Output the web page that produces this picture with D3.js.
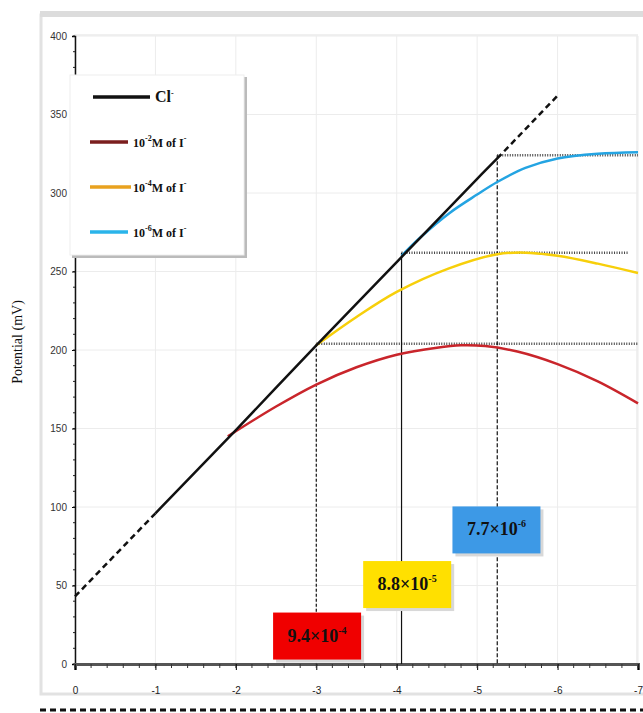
<!DOCTYPE html>
<html>
<head>
<meta charset="utf-8">
<script src="https://cdn.jsdelivr.net/npm/d3@7.9.0/dist/d3.min.js"></script>
<style>
  body { margin: 0; background: #fff; }
  svg { display: block; font-family: "Liberation Serif", "DejaVu Serif", serif; }
</style>
</head>
<body>
<svg id="chart" width="643" height="713"></svg>
<script>
// data
const xTicks = [0, -1, -2, -3, -4, -5, -6, -7];
const yTicks = [0, 50, 100, 150, 200, 250, 300, 350, 400];

const clSolid = [[-1, 96], [-2, 149], [-3, 203], [-4, 256], [-5, 309], [-5.25, 322]];
const clDashLow = [[0, 43], [-1, 96]];
const clDashHigh = [[-5.25, 322], [-6, 362]];

const iodide2 = [[-1.9, 145], [-2.5, 164], [-3, 178], [-3.5, 189], [-4, 197], [-4.5, 201.5],
  [-4.8, 203], [-5.1, 202.5], [-5.5, 199], [-6, 191], [-6.5, 180], [-7, 166]];
const iodide4 = [[-3, 203], [-3.5, 221], [-4, 237], [-4.65, 252], [-5.25, 261], [-5.6, 262],
  [-6, 260], [-6.5, 255], [-7, 249]];
const iodide6 = [[-4.06, 260], [-4.3, 272], [-4.65, 287], [-5, 299], [-5.25, 307], [-5.6, 316],
  [-6, 322], [-6.5, 325], [-7, 326]];

// dotted levels: [x start, x end, y]
const levels = [[-3, -7, 204], [-4.06, -6.88, 262], [-5.25, -7, 324]];
// drop lines: [x, y top, dash]
const drops = [[-3, 204, '3,2'], [-4.06, 262, null], [-5.25, 324, '4,2']];

// limit boxes: [x centre, y centre, mantissa, exponent, fill]
const limits = [[-3.01, 17.8, '9.4', '-4', '#f00000'], [-4.13, 50.6, '8.8', '-5', '#ffe000'],
  [-5.24, 85.4, '7.7', '-6', '#3d99e6']];

const legendItems = [
  { label: 'Cl', sup: '-', color: '#111', len: 57 },
  { label: '10', sup: '-2', post: 'M of I', color: '#7b1e1e', len: 38 },
  { label: '10', sup: '-4', post: 'M of I', color: '#e9a21f', len: 41 },
  { label: '10', sup: '-6', post: 'M of I', color: '#2ab4ea', len: 38 }
];

const svg = d3.select('#chart');

// outer panel
svg.append('rect').attr('x', 41).attr('y', 15).attr('width', 610).attr('height', 679)
  .attr('fill', 'none').attr('stroke', '#e2e2e2').attr('stroke-width', 3);
svg.append('rect').attr('x', 40).attr('y', 11).attr('width', 603).attr('height', 6).attr('fill', '#dcdcdc');
svg.append('line').attr('x1', 40).attr('x2', 643).attr('y1', 710).attr('y2', 710)
  .attr('stroke', '#111').attr('stroke-width', 3).attr('stroke-dasharray', '6,4');

const x = d3.scaleLinear().domain([0, -7]).range([75, 638]);
const y = d3.scaleLinear().domain([0, 400]).range([664, 36]);

// plot border
svg.append('rect').attr('x', 75).attr('y', 35).attr('width', 562).attr('height', 629)
  .attr('fill', 'none').attr('stroke', '#f0f0f0').attr('stroke-width', 2);

// grid
svg.append('g').selectAll('line').data(xTicks.slice(1)).join('line')
  .attr('x1', d => x(d)).attr('x2', d => x(d)).attr('y1', y(400)).attr('y2', y(0))
  .attr('stroke', '#ececec');
svg.append('g').selectAll('line').data(yTicks.slice(1)).join('line')
  .attr('x1', x(0)).attr('x2', x(-7)).attr('y1', d => y(d)).attr('y2', d => y(d))
  .attr('stroke', '#ececec');

// axes
const yAxis = svg.append('g').attr('transform', `translate(${x(0)},0)`)
  .call(d3.axisLeft(y).tickValues(yTicks).tickSize(3).tickPadding(5));
yAxis.append('g').selectAll('line').data(d3.range(0, 401, 10)).join('line')
  .attr('x1', -2).attr('x2', 0).attr('y1', d => y(d)).attr('y2', d => y(d)).attr('stroke', '#222');
yAxis.select('.domain').attr('stroke', '#111').attr('stroke-width', 1.5);
yAxis.selectAll('text').attr('font-size', 10).attr('fill', '#333');

const xAxis = svg.append('g').attr('transform', `translate(0,${y(0)})`)
  .call(d3.axisBottom(x).tickValues(xTicks).tickSize(6).tickPadding(17)
    .tickFormat(d => d === 0 ? '0' : '-' + Math.abs(d)));
xAxis.append('g').selectAll('line').data(d3.range(0, -7.01, -0.2)).join('line')
  .attr('x1', d => x(d)).attr('x2', d => x(d)).attr('y1', 0).attr('y2', 4).attr('stroke', '#333');
xAxis.select('.domain').attr('stroke', '#555').attr('stroke-width', 3);
xAxis.selectAll('text').attr('font-size', 10).attr('fill', '#222');

svg.append('text').attr('transform', `translate(22,342) rotate(-90)`)
  .attr('text-anchor', 'middle').attr('font-size', 14).attr('fill', '#111')
  .text('Potential (mV)');

// dotted levels and drop lines
svg.append('g').selectAll('line').data(levels).join('line')
  .attr('x1', d => x(d[0])).attr('x2', d => x(d[1])).attr('y1', d => y(d[2])).attr('y2', d => y(d[2]))
  .attr('stroke', '#444').attr('stroke-width', 2.5).attr('stroke-dasharray', '1,1.5');
svg.append('g').selectAll('line').data(drops).join('line')
  .attr('x1', d => x(d[0])).attr('x2', d => x(d[0])).attr('y1', d => y(d[1])).attr('y2', y(0))
  .attr('stroke', '#111').attr('stroke-width', 1.2).attr('stroke-dasharray', d => d[2]);

// curves
const line = d3.line().x(d => x(d[0])).y(d => y(d[1])).curve(d3.curveCatmullRom);
const curves = [[iodide2, '#c9252b'], [iodide4, '#f7cf0a'], [iodide6, '#24a4e2']];
curves.forEach(([data, color]) => {
  svg.append('path').datum(data).attr('d', line).attr('fill', 'none')
    .attr('stroke', color).attr('stroke-width', 2.5);
});
svg.append('path').datum(clSolid).attr('d', line).attr('fill', 'none').attr('stroke', '#111').attr('stroke-width', 2.5);
[clDashLow, clDashHigh].forEach(data => {
  svg.append('path').datum(data).attr('d', line).attr('fill', 'none')
    .attr('stroke', '#111').attr('stroke-width', 2.5).attr('stroke-dasharray', '6,4');
});

// limit boxes
const boxW = 88, boxH = 47;
const box = svg.append('g').selectAll('g').data(limits).join('g')
  .attr('transform', d => `translate(${x(d[0]) - boxW / 2},${y(d[1]) - boxH / 2})`);
box.append('rect').attr('x', 3).attr('y', 3).attr('width', boxW).attr('height', boxH).attr('fill', '#d8d8d8');
box.append('rect').attr('width', boxW).attr('height', boxH).attr('fill', d => d[4]);
const bt = box.append('text').attr('x', boxW / 2).attr('y', 29).attr('text-anchor', 'middle')
  .attr('font-size', 18).attr('font-weight', 'bold').attr('fill', '#111');
bt.append('tspan').text(d => d[2] + '×10');
bt.append('tspan').attr('dy', -8).attr('font-size', 10).text(d => d[3]);

// legend
const lg = svg.append('g').attr('transform', 'translate(70,75)');
lg.append('rect').attr('x', 2).attr('y', 2).attr('width', 175).attr('height', 181).attr('fill', '#bbb');
lg.append('rect').attr('width', 174).attr('height', 180).attr('fill', '#fff').attr('stroke', '#eee');
const item = lg.selectAll('g.item').data(legendItems).join('g').attr('class', 'item')
  .attr('transform', (d, i) => `translate(0,${22 + i * 45})`);
item.append('line').attr('x1', (d, i) => i === 0 ? 23 : 20).attr('x2', (d, i) => (i === 0 ? 23 : 20) + d.len)
  .attr('stroke', d => d.color).attr('stroke-width', 3.5);
const lt = item.append('text').attr('x', (d, i) => i === 0 ? 85 : 63).attr('y', 5)
  .attr('font-size', (d, i) => i === 0 ? 16 : 12).attr('font-weight', 'bold').attr('fill', '#111');
lt.append('tspan').text(d => d.label);
lt.append('tspan').attr('dy', -6).attr('font-size', 8).text(d => d.sup);
lt.append('tspan').attr('dy', 6).text(d => d.post || '');
lt.filter(d => d.post).append('tspan').attr('dy', -6).attr('font-size', 8).text('-');
</script>
</body>
</html>
